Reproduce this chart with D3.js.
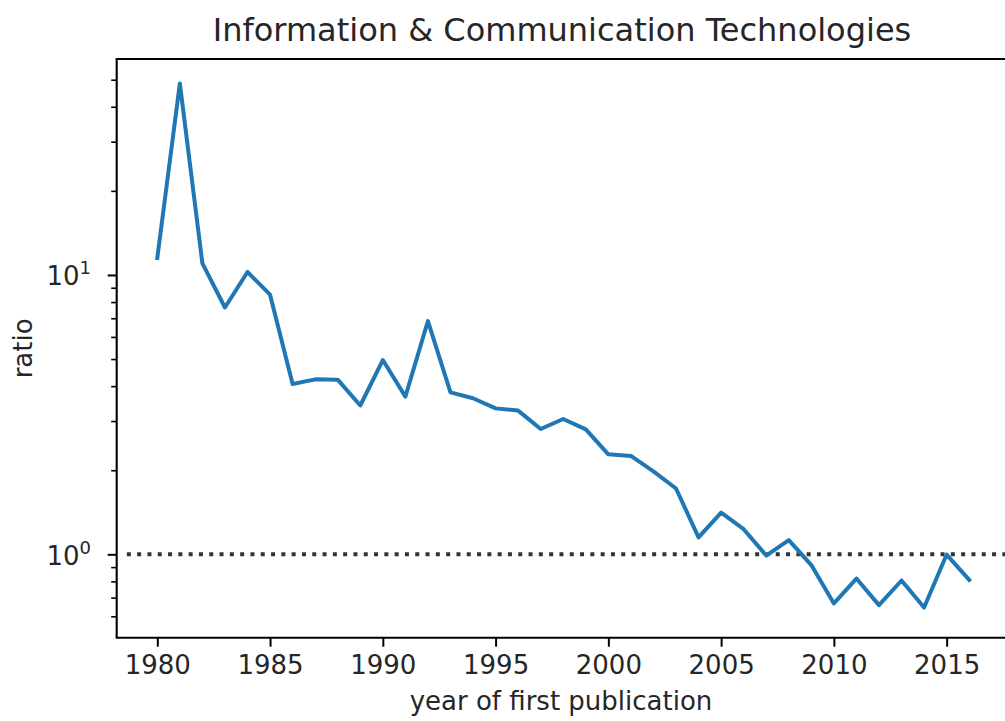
<!DOCTYPE html>
<html>
<head>
<meta charset="utf-8">
<script src="https://cdn.jsdelivr.net/npm/d3@7"></script>
<style>
  html, body { margin: 0; padding: 0; background: #fff; }
  svg { display: block; }
  text { font-family: "DejaVu Sans", sans-serif; fill: #262626; }
</style>
</head>
<body>
<svg id="chart" width="1005" height="721"></svg>
<script>
// ---- data ----
const years = d3.range(1980, 2017);
const ratio = [11.5, 48.5, 11.0, 7.65, 10.25, 8.5, 4.07, 4.23, 4.22, 3.41,
               4.96, 3.67, 6.84, 3.80, 3.62, 3.33, 3.27, 2.81, 3.05, 2.80,
               2.28, 2.25, 1.98, 1.72, 1.15, 1.41, 1.23, 0.99, 1.125, 0.915,
               0.667, 0.819, 0.658, 0.806, 0.645, 0.998, 0.81];
const xTicks = [1980, 1985, 1990, 1995, 2000, 2005, 2010, 2015];
const yMajor = [1, 10];
const yMajorExp = ["0", "1"];
const yMinor = [0.6, 0.7, 0.8, 0.9, 2, 3, 4, 5, 6, 7, 8, 9, 20, 30, 40, 50];
const refValue = 1;
const xLimits = [1978.2, 2017.8];
const yLimits = [0.503, 59.3];
const refStartYear = 1978.65;

const title = "Information & Communication Technologies";
const xLabel = "year of first publication";
const yLabel = "ratio";

// ---- layout ----
const svg = d3.select("#chart");
const L = 116.7, R = 1009.8, T = 59, B = 637.7;

const x = d3.scaleLinear().domain(xLimits).range([L, R]);
const y = d3.scaleLog().domain(yLimits).range([B, T]);

// reference dotted line
svg.append("line")
  .attr("x1", x(refStartYear)).attr("x2", x(xLimits[1]))
  .attr("y1", y(refValue)).attr("y2", y(refValue))
  .attr("stroke", "#333").attr("stroke-width", 4)
  .attr("stroke-dasharray", "4,6.3");

// data line
const line = d3.line().x((d, i) => x(years[i])).y(d => y(d));
svg.append("path")
  .datum(ratio)
  .attr("d", line)
  .attr("fill", "none")
  .attr("stroke", "#1f77b4")
  .attr("stroke-width", 4)
  .attr("stroke-linejoin", "round")
  .attr("stroke-linecap", "square");

// x axis
const xAxis = svg.append("g")
  .attr("transform", `translate(0,${B})`)
  .call(d3.axisBottom(x).tickValues(xTicks).tickSize(9).tickPadding(9).tickFormat(d3.format("d")));
xAxis.select(".domain").remove();
xAxis.selectAll(".tick line").attr("stroke", "#000").attr("stroke-width", 2);
xAxis.selectAll(".tick text")
  .attr("font-size", 26).attr("font-family", "DejaVu Sans").attr("fill", "#262626")
  .attr("dy", "0.71em");

// y axis: minor ticks
const yMin = svg.append("g")
  .attr("transform", `translate(${L},0)`)
  .call(d3.axisLeft(y).tickValues(yMinor).tickSize(5.5).tickFormat(""));
yMin.select(".domain").remove();
yMin.selectAll(".tick line").attr("stroke", "#000").attr("stroke-width", 1.6);

// y axis: major ticks
const yMaj = svg.append("g")
  .attr("transform", `translate(${L},0)`)
  .call(d3.axisLeft(y).tickValues(yMajor).tickSize(9).tickFormat(""));
yMaj.select(".domain").remove();
yMaj.selectAll(".tick line").attr("stroke", "#000").attr("stroke-width", 2);

const yl = svg.append("g").selectAll("text")
  .data(yMajor)
  .join("text")
  .attr("x", 91)
  .attr("y", d => y(d) + 10.5)
  .attr("text-anchor", "end")
  .attr("font-size", 26);
yl.append("tspan").text("10");
yl.append("tspan").attr("font-size", 18).attr("dy", -11).text((d, i) => yMajorExp[i]);

// spines
const spine = svg.append("g").attr("stroke", "#000").attr("stroke-width", 2.1).attr("fill", "none");
spine.append("line").attr("x1", L).attr("x2", L).attr("y1", T).attr("y2", B);
spine.append("line").attr("x1", L - 1).attr("x2", R + 1).attr("y1", B).attr("y2", B);
spine.append("line").attr("x1", L - 1).attr("x2", R + 1).attr("y1", T).attr("y2", T);
spine.append("line").attr("x1", R).attr("x2", R).attr("y1", T).attr("y2", B);

// title & labels
svg.append("text")
  .attr("x", 562).attr("y", 41)
  .attr("text-anchor", "middle")
  .attr("font-size", 32)
  .text(title);

svg.append("text")
  .attr("x", 561).attr("y", 710)
  .attr("text-anchor", "middle")
  .attr("font-size", 26)
  .text(xLabel);

svg.append("text")
  .attr("transform", `translate(31.5,${(T + B) / 2}) rotate(-90)`)
  .attr("text-anchor", "middle")
  .attr("font-size", 26)
  .text(yLabel);
</script>
</body>
</html>
